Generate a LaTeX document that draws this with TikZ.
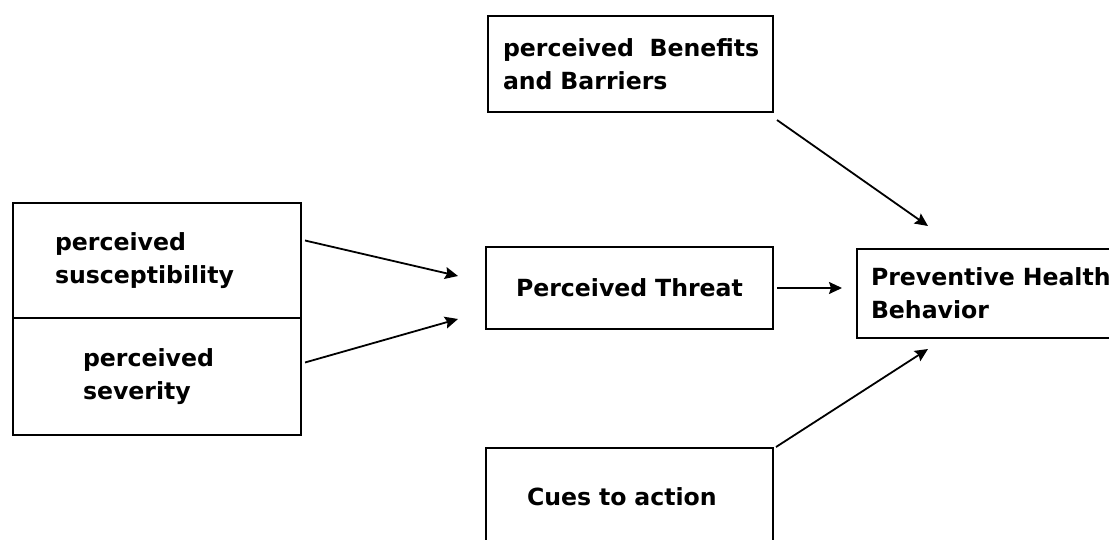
\documentclass[tikz,border=0pt]{standalone}
\usepackage{fontspec}
\setmainfont{DejaVu Sans}
\usetikzlibrary{arrows.meta}

\newcommand{\hbmfont}{\fontsize{23.6pt}{33pt}\selectfont\bfseries}

\begin{document}
\begin{tikzpicture}[
    x=1pt, y=-1pt,
    every node/.style={font=\hbmfont},
    factor/.style={rectangle, draw=black, line width=1.8pt, anchor=north west,
                   outer sep=0pt, align=left},
    link/.style={-{Stealth[length=13pt, width=12pt, inset=2pt]}, line width=1.8pt}
]

    % page frame
    \useasboundingbox (0,0) rectangle (1109,540);
    \clip (0,0) rectangle (1109,540);

    % Individual perceptions
    \node[factor, minimum width=288pt, minimum height=115pt,
          inner xsep=42pt, text width=204pt] (sus) at (13,203)
        {perceived\\susceptibility};
    \node[factor, minimum width=288pt, minimum height=117pt,
          inner xsep=70pt, text width=148pt] (sev) at (13,318)
        {perceived\\severity};

    % Modifying factors
    \node[factor, minimum width=285pt, minimum height=96pt,
          inner xsep=15pt, text width=255pt] (ben) at (488,16)
        {\mbox{perceived~~Benefits}\\and Barriers};
    \node[factor, minimum width=287pt, minimum height=82pt,
          text width=257pt, align=center] (threat) at (486,247)
        {Perceived Threat};
    \node[factor, minimum width=287pt, minimum height=98pt,
          inner xsep=41pt, text width=205pt] (cues) at (486,448)
        {Cues to action};

    % Likelihood of action
    \node[factor, minimum width=263pt, minimum height=89pt,
          inner xsep=14pt, text width=235pt] (prev) at (857,249)
        {\mbox{Preventive Health}\\Behavior};

    % Arrows
    \draw[link] ([xshift=4pt, yshift=20pt]sus.east)
             -- ([xshift=-28pt, yshift=12pt]threat.west);
    \draw[link] ([xshift=4pt, yshift=14pt]sev.east)
             -- ([xshift=-28pt, yshift=-31pt]threat.west);
    \draw[link] ([xshift=4pt]threat.east)
             -- ([xshift=-15pt]prev.west |- threat.east);
    \draw[link] ([xshift=4pt, yshift=-8pt]ben.south east)
             -- ([xshift=71pt, yshift=23pt]prev.north west);
    \draw[link] ([xshift=3pt, yshift=1pt]cues.north east)
             -- ([xshift=71pt, yshift=-11pt]prev.south west);

\end{tikzpicture}
\end{document}
